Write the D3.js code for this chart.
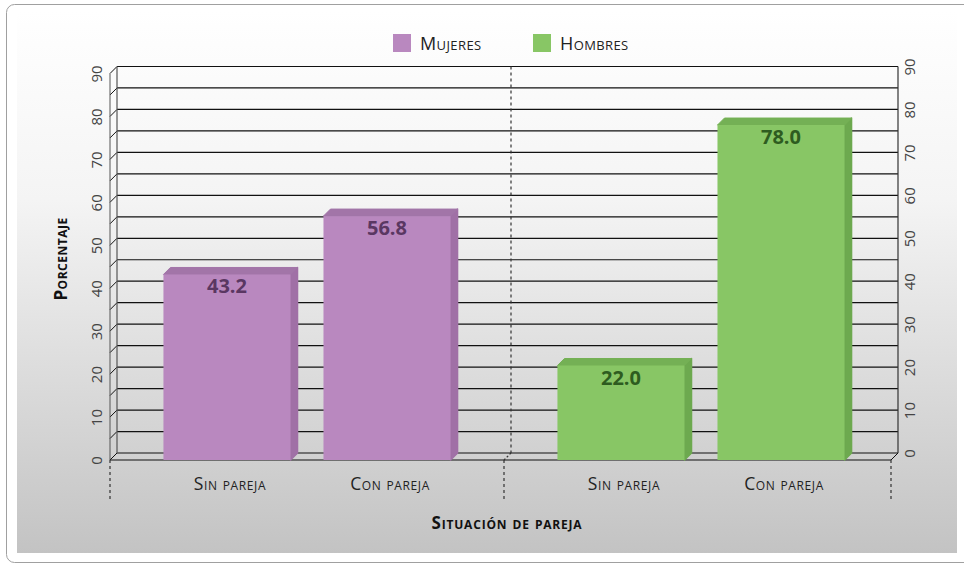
<!DOCTYPE html>
<html><head><meta charset="utf-8">
<script src="https://cdn.jsdelivr.net/npm/d3@7"></script>
<style>
html,body{margin:0;padding:0;background:#fff;}
svg{display:block;font-family:"Open Sans","Noto Sans",sans-serif;}
.sc{font-variant:small-caps;}
</style></head>
<body>
<svg id="c" width="964" height="564"></svg>
<script>
const groups = ["Mujeres", "Hombres"];
const categories = ["Sin pareja", "Con pareja"];
const mujeres = [43.2, 56.8];
const hombres = [22.0, 78.0];
const seriesValues = {Mujeres: mujeres, Hombres: hombres};
const yTicks = [0, 10, 20, 30, 40, 50, 60, 70, 80, 90];
const gridValues = d3.range(0, 91, 5);
const yTitle = "Porcentaje";
const xTitle = "Situación de pareja";

const colors = {
  Mujeres: {front: "#b988bf", top: "#a275a8", side: "#a070a6", label: "#5a3762"},
  Hombres: {front: "#88c665", top: "#74b055", side: "#6da94f", label: "#2e5c20"}
};

const svg = d3.select("#c");
const DX = 7, DY = 7;

// background
const defs = svg.append("defs");
const lg = defs.append("linearGradient").attr("id","bg").attr("x1",0).attr("y1",0).attr("x2",0).attr("y2",1);
lg.append("stop").attr("offset","0%").attr("stop-color","#ffffff");
lg.append("stop").attr("offset","35%").attr("stop-color","#f4f4f4");
lg.append("stop").attr("offset","100%").attr("stop-color","#c3c3c3");
svg.append("rect").attr("x",6.5).attr("y",4.5).attr("width",980).attr("height",558).attr("rx",8)
  .attr("fill","#fff").attr("stroke","#a0a0a0").attr("stroke-width",1);
svg.append("rect").attr("x",17).attr("y",10).attr("width",940).attr("height",543).attr("fill","url(#bg)");

// scales
const y = d3.scaleLinear().domain([0, 90]).range([460, 73.5]);
const yb = v => y(v) - DY;
const x0 = d3.scaleBand().domain(groups).range([110, 898]);
const x1 = d3.scaleBand().domain(categories).range([0, x0.bandwidth()]).paddingInner(0.206).paddingOuter(0.334);

const xL = 110, xR = 891;

// grid on back wall
const g = svg.append("g");
g.selectAll("line.grid").data(gridValues).join("line")
  .attr("x1", xL + DX).attr("x2", xR + DX)
  .attr("y1", d => yb(d)).attr("y2", d => yb(d))
  .attr("stroke", "#111").attr("stroke-width", 1.2);
g.selectAll("line.diag").data(gridValues).join("line")
  .attr("x1", xL + DX).attr("x2", xL)
  .attr("y1", d => yb(d)).attr("y2", d => y(d))
  .attr("stroke", "#111").attr("stroke-width", 1);
g.append("line").attr("x1", xL).attr("x2", xL).attr("y1", y(90)).attr("y2", y(0)).attr("stroke","#555").attr("stroke-width",1);
g.append("line").attr("x1", xL+DX).attr("x2", xL+DX).attr("y1", yb(90)).attr("y2", yb(0)).attr("stroke","#555").attr("stroke-width",1.2);
g.append("line").attr("x1", xR+DX).attr("x2", xR+DX).attr("y1", yb(90)).attr("y2", yb(0)).attr("stroke","#333").attr("stroke-width",1.2);
g.append("line").attr("x1", xL).attr("x2", xR).attr("y1", y(0)).attr("y2", y(0)).attr("stroke","#111").attr("stroke-width",1.2);
g.append("line").attr("x1", xR+DX).attr("x2", xR).attr("y1", yb(0)).attr("y2", y(0)).attr("stroke","#111").attr("stroke-width",1);

// separators
const sepX = x0("Hombres");
const dash = "3,3";
g.append("line").attr("x1", sepX+DX).attr("x2", sepX+DX).attr("y1", yb(90)).attr("y2", yb(0))
  .attr("stroke","#333").attr("stroke-dasharray",dash).attr("stroke-width",1.2);
g.append("line").attr("x1", sepX+DX).attr("x2", sepX).attr("y1", yb(0)).attr("y2", y(0))
  .attr("stroke","#333").attr("stroke-dasharray","2,2").attr("stroke-width",1.2);
[xL, sepX, xR].forEach(xx => {
  g.append("line").attr("x1", xx).attr("x2", xx).attr("y1", y(0)).attr("y2", 500)
    .attr("stroke","#333").attr("stroke-dasharray",dash).attr("stroke-width",1.2);
});

// bars
const bars = [];
groups.forEach(gr => categories.forEach((c, i) => bars.push({group: gr, cat: c, value: seriesValues[gr][i]})));
const bg = svg.append("g");
bars.forEach(d => {
  const bx = x0(d.group) + x1(d.cat), bw = x1.bandwidth();
  const top = y(d.value), base = y(0);
  const col = colors[d.group];
  bg.append("path").attr("d", `M${bx+bw},${top}L${bx+bw+DX},${top-DY}L${bx+bw+DX},${base-DY}L${bx+bw},${base}Z`)
    .attr("fill", col.side).attr("stroke", col.side).attr("stroke-width", 1.5).attr("stroke-linejoin","round");
  bg.append("path").attr("d", `M${bx},${top}L${bx+DX},${top-DY}L${bx+bw+DX},${top-DY}L${bx+bw},${top}Z`)
    .attr("fill", col.top).attr("stroke", col.top).attr("stroke-width", 1).attr("stroke-linejoin","round");
  bg.append("rect").attr("x", bx).attr("y", top).attr("width", bw).attr("height", base - top).attr("fill", col.front);
  bg.append("text").attr("x", bx + bw/2).attr("y", top + 19).attr("text-anchor","middle")
    .attr("font-size", 20).attr("font-weight", "bold").attr("fill", col.label)
    .text(d.value.toFixed(1));
});

// y axes (tick labels rotated)
const axL = svg.append("g").attr("transform", `translate(${xL},0)`).call(d3.axisLeft(y).tickValues(yTicks).tickSize(0).tickPadding(0));
axL.select(".domain").remove();
axL.selectAll("text").attr("transform", `translate(-13,0) rotate(-90)`).attr("x",0).attr("dy","0.35em")
  .attr("text-anchor","middle").attr("font-size",15).attr("fill","#444").attr("font-family","'Open Sans',sans-serif");
const axR = svg.append("g").attr("transform", `translate(${xR+DX},${-DY})`).call(d3.axisRight(y).tickValues(yTicks).tickSize(0).tickPadding(0));
axR.select(".domain").remove();
axR.selectAll("text").attr("transform", `translate(12,0) rotate(-90)`).attr("x",0).attr("dy","0.35em")
  .attr("text-anchor","middle").attr("font-size",15).attr("fill","#444").attr("font-family","'Open Sans',sans-serif");

// category labels
const cl = svg.append("g");
bars.forEach(d => {
  cl.append("text").attr("class","sc").attr("x", x0(d.group) + x1(d.cat) + x1.bandwidth()/2 + 3).attr("y", 490)
    .attr("text-anchor","middle").attr("font-size",17.5).attr("letter-spacing",0.6).attr("fill","#222").text(d.cat);
});

// titles
svg.append("text").attr("class","sc").attr("transform","translate(67,259) rotate(-90)").attr("text-anchor","middle")
  .attr("font-size",17).attr("font-weight","bold").attr("letter-spacing",0.5).attr("fill","#111").text(yTitle);
svg.append("text").attr("class","sc").attr("x",507).attr("y",529).attr("text-anchor","middle")
  .attr("font-size",17).attr("font-weight","bold").attr("letter-spacing",0.8).attr("fill","#111").text(xTitle);

// legend
const legX = {Mujeres: 393, Hombres: 533};
groups.forEach(gr => {
  svg.append("rect").attr("x", legX[gr]).attr("y", 34).attr("width", 18).attr("height", 18).attr("fill", colors[gr].front);
  svg.append("text").attr("class","sc").attr("x", legX[gr] + 27).attr("y", 50).attr("font-size", 18).attr("letter-spacing",0.4).attr("fill","#222").text(gr);
});
</script>
</body></html>
